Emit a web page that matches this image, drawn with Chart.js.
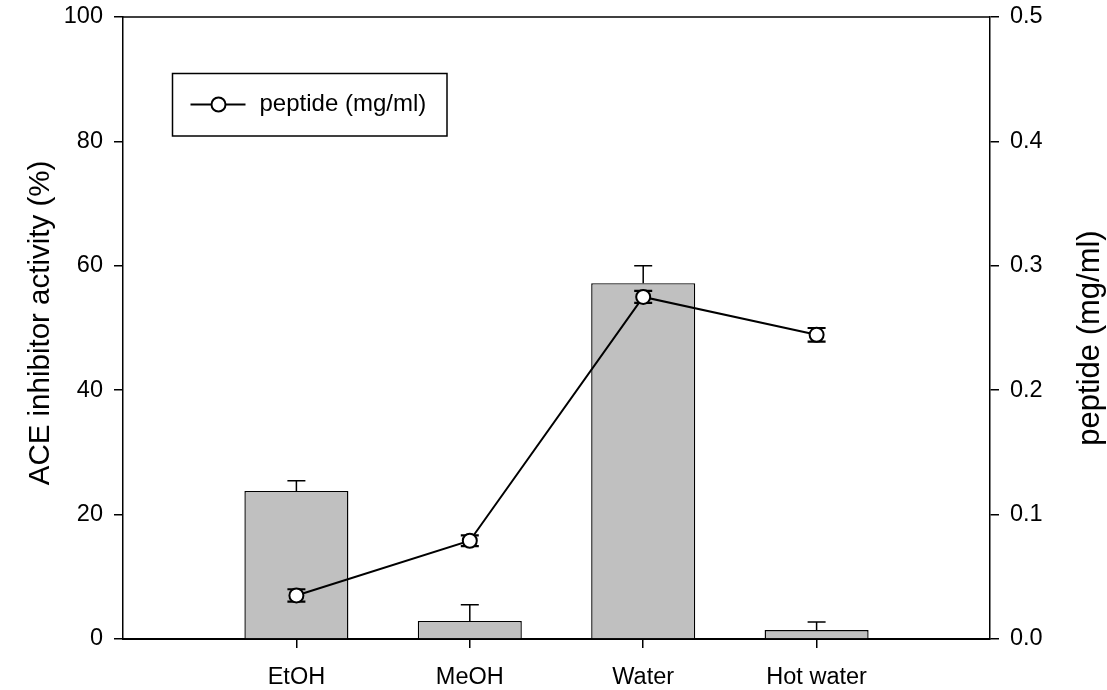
<!DOCTYPE html>
<html lang="en">
<head>
  <meta charset="UTF-8" />
  <title>ACE inhibitor activity and peptide content</title>
  <script src="https://cdn.jsdelivr.net/npm/chart.js@4.4.1/dist/chart.umd.min.js"></script>
  <style>
    body {
      margin: 0;
      background-color: #fff;
    }
    .chart-box {
      width: 1107px;
      height: 690px;
    }
  </style>
</head>
<body>
  <div class="chart-box">
    <canvas id="aceChart"></canvas>
  </div>

  <script>
    // extraction solvents, placed at x = 1..4 on a 0..5 axis
    const categories = ['EtOH', 'MeOH', 'Water', 'Hot water'];
    const xPos = [1, 2, 3, 4];

    // ACE inhibitor activity (%) with upper error
    const aceActivity = [23.8, 2.9, 57.2, 1.45];
    const aceErr = [1.65, 2.6, 2.8, 1.3];

    // peptide content (mg/ml) with +/- error
    const peptide = [0.035, 0.079, 0.275, 0.2445];
    const peptideErr = [0.005, 0.0043, 0.0048, 0.0055];

    const leftTicks = [0, 20, 40, 60, 80, 100];
    const rightTicks = [0, 0.1, 0.2, 0.3, 0.4, 0.5];

    const FONT = "'Liberation Sans', Arial, sans-serif";

    // error bars: bars get an upper whisker, points get both directions
    const errorBars = {
      id: 'errorBars',
      afterDatasetDraw(chart, args) {
        if (args.index !== 0) return;
        const ctx = chart.ctx;
        const x = chart.scales.x, y = chart.scales.y;
        ctx.save();
        ctx.strokeStyle = '#000';
        ctx.lineWidth = 1.5;
        aceActivity.forEach((v, i) => {
          const px = x.getPixelForValue(xPos[i]);
          const y0 = y.getPixelForValue(v);
          const y1 = y.getPixelForValue(v + aceErr[i]);
          ctx.beginPath();
          ctx.moveTo(px, y0);
          ctx.lineTo(px, y1);
          ctx.moveTo(px - 9, y1);
          ctx.lineTo(px + 9, y1);
          ctx.stroke();
        });
        ctx.restore();
      },
      beforeDatasetDraw(chart, args) {
        if (args.index !== 1) return;
        const ctx = chart.ctx;
        const x = chart.scales.x, y = chart.scales.y1;
        ctx.save();
        ctx.strokeStyle = '#000';
        ctx.lineWidth = 2.2;
        peptide.forEach((v, i) => {
          const px = x.getPixelForValue(xPos[i]);
          const lo = y.getPixelForValue(v - peptideErr[i]);
          const hi = y.getPixelForValue(v + peptideErr[i]);
          ctx.beginPath();
          ctx.moveTo(px, lo);
          ctx.lineTo(px, hi);
          ctx.moveTo(px - 9, lo);
          ctx.lineTo(px + 9, lo);
          ctx.moveTo(px - 9, hi);
          ctx.lineTo(px + 9, hi);
          ctx.stroke();
        });
        ctx.restore();
      }
    };

    // top frame line, axis titles and the boxed legend
    const decorations = {
      id: 'decorations',
      afterDraw(chart) {
        const ctx = chart.ctx;
        const a = chart.chartArea;
        ctx.save();
        ctx.strokeStyle = '#000';
        ctx.lineWidth = 1.5;
        ctx.beginPath();
        ctx.moveTo(a.left, a.top);
        ctx.lineTo(a.right, a.top);
        ctx.stroke();

        ctx.fillStyle = '#000';
        ctx.textAlign = 'center';
        ctx.textBaseline = 'middle';
        const midY = (a.top + a.bottom) / 2;
        ctx.save();
        ctx.font = '29.5px ' + FONT;
        ctx.translate(41, midY - 5);
        ctx.rotate(-Math.PI / 2);
        ctx.fillText('ACE inhibitor activity (%)', 0, 0);
        ctx.restore();
        ctx.save();
        ctx.font = '31px ' + FONT;
        ctx.translate(1090, midY + 10);
        ctx.rotate(-Math.PI / 2);
        ctx.fillText('peptide (mg/ml)', 0, 0);
        ctx.restore();

        // legend
        const lx = a.left + 49.5, ly = a.top + 56.5;
        ctx.lineWidth = 1.5;
        ctx.strokeRect(lx, ly, 274.5, 62.5);
        const cy = ly + 31;
        ctx.lineWidth = 2;
        ctx.beginPath();
        ctx.moveTo(lx + 18, cy);
        ctx.lineTo(lx + 73, cy);
        ctx.stroke();
        ctx.beginPath();
        ctx.arc(lx + 46, cy, 7, 0, Math.PI * 2);
        ctx.fillStyle = '#fff';
        ctx.fill();
        ctx.stroke();
        ctx.fillStyle = '#000';
        ctx.font = '24px ' + FONT;
        ctx.textAlign = 'left';
        ctx.fillText('peptide (mg/ml)', lx + 87, cy);
        ctx.restore();
      }
    };

    const tickGrid = {
      display: true,
      drawOnChartArea: false,
      drawTicks: true,
      offset: false,
      tickLength: 9,
      color: '#000',
      lineWidth: 1.5
    };

    // keep the plot frame fixed regardless of tick label overhang
    const fitY = width => axis => {
      axis.width = width;
      axis.paddingTop = 0;
      axis.paddingBottom = 0;
    };

    new Chart(document.getElementById('aceChart').getContext('2d'), {
      type: 'bar',
      data: {
        datasets: [
          {
            type: 'bar',
            label: 'ACE inhibitor activity (%)',
            data: xPos.map((x, i) => ({ x: x, y: aceActivity[i] })),
            yAxisID: 'y',
            backgroundColor: '#c0c0c0',
            borderColor: '#000',
            borderWidth: 1.4,
            barPercentage: 0.6,
            categoryPercentage: 1,
            order: 2
          },
          {
            type: 'line',
            label: 'peptide (mg/ml)',
            data: xPos.map((x, i) => ({ x: x, y: peptide[i] })),
            yAxisID: 'y1',
            borderColor: '#000',
            borderWidth: 2,
            tension: 0,
            pointRadius: 7,
            pointBorderWidth: 2,
            pointBackgroundColor: '#fff',
            pointBorderColor: '#000',
            order: 1
          }
        ]
      },
      options: {
        responsive: true,
        maintainAspectRatio: false,
        animation: false,
        devicePixelRatio: 1,
        layout: { padding: { top: 17, left: 0, right: 0, bottom: 0 } },
        plugins: {
          legend: { display: false },
          tooltip: { enabled: false }
        },
        scales: {
          x: {
            type: 'linear',
            position: 'bottom',
            offset: false,
            min: 0,
            max: 5,
            afterBuildTicks: axis => { axis.ticks = xPos.map(v => ({ value: v })); },
            afterFit: axis => {
              axis.height = 51;
              axis.paddingLeft = 0;
              axis.paddingRight = 0;
            },
            ticks: {
              autoSkip: false,
              maxRotation: 0,
              padding: 15,
              color: '#000',
              font: { family: FONT, size: 23.5 },
              callback: v => categories[xPos.indexOf(v)] ?? ''
            },
            grid: tickGrid,
            border: { display: true, color: '#000', width: 2 }
          },
          y: {
            position: 'left',
            min: 0,
            max: 100,
            afterBuildTicks: axis => { axis.ticks = leftTicks.map(v => ({ value: v })); },
            afterFit: fitY(123),
            ticks: {
              padding: 11,
              color: '#000',
              font: { family: FONT, size: 23.5 }
            },
            grid: tickGrid,
            border: { display: true, color: '#000', width: 1.5 }
          },
          y1: {
            position: 'right',
            min: 0,
            max: 0.5,
            afterBuildTicks: axis => { axis.ticks = rightTicks.map(v => ({ value: v })); },
            afterFit: fitY(117),
            ticks: {
              padding: 11,
              color: '#000',
              font: { family: FONT, size: 23.5 },
              callback: v => v.toFixed(1)
            },
            grid: tickGrid,
            border: { display: true, color: '#000', width: 1.5 }
          }
        }
      },
      plugins: [errorBars, decorations]
    });
  </script>
</body>
</html>
